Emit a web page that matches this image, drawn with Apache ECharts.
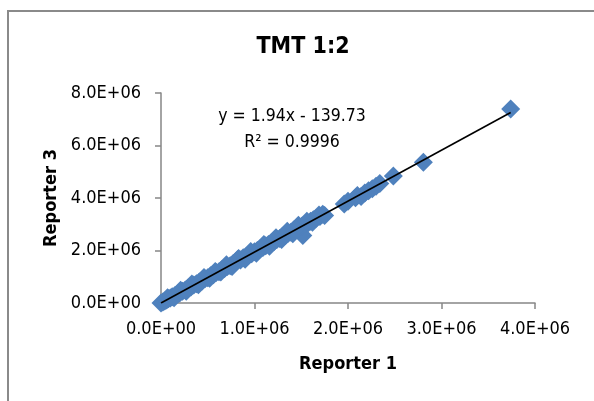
<!DOCTYPE html>
<html><head><meta charset="utf-8">
<script src="https://cdn.jsdelivr.net/npm/echarts@6/dist/echarts.min.js"></script>
<style>html,body{margin:0;padding:0;background:#fff}#c{width:594px;height:401px}</style>
</head><body><div id="c"></div>
<script>
// Reporter 1 (x) vs Reporter 3 (y) intensities
const reporter1 = [0,20000,40000,60000,80000,100000,120000,150000,180000,200000,230000,260000,290000,320000,350000,380000,410000,440000,470000,500000,530000,560000,590000,620000,650000,680000,710000,740000,770000,800000,820000,850000,880000,910000,940000,970000,1000000,1030000,1060000,1090000,1120000,1150000,1180000,1210000,1240000,1270000,1300000,1330000,1360000,1390000,1420000,1450000,1480000,1517000,1510000,1540000,1570000,1600000,1630000,1660000,1700000,1730000,1960000,2000000,2080000,2100000,2140000,2180000,2220000,2260000,2300000,2340000,2485000,2806000,3740000,
  10000,70000,140000,210000,270000,330000,400000,460000,520000,580000,640000,700000,760000,830000,900000,960000,1020000,1100000,1160000,1230000,1290000,1350000,1410000,1470000,1560000,1620000,1690000,1750000];
const reporter3 = [0,35000,80000,110000,160000,190000,240000,285000,355000,380000,450000,500000,570000,610000,690000,730000,800000,840000,920000,960000,1040000,1080000,1160000,1190000,1270000,1310000,1390000,1420000,1500000,1560000,1660000,1640000,1720000,1760000,1830000,1880000,1950000,2000000,2070000,2110000,2180000,2230000,2300000,2340000,2420000,2460000,2540000,2570000,2660000,2700000,2780000,2810000,2900000,2570000,2930000,3000000,3040000,3110000,3170000,3230000,3300000,3380000,3770000,3880000,4010000,4100000,4060000,4190000,4280000,4350000,4450000,4550000,4840000,5360000,7390000,
  -40000,200000,200000,490000,450000,720000,700000,970000,940000,1200000,1180000,1460000,1390000,1700000,1670000,1960000,1900000,2230000,2160000,2490000,2420000,2730000,2640000,2960000,3110000,3080000,3350000,3330000];
// Linear trendline endpoints (y = 1.94x - 139.73)
const trendX = [0, 3740000];
const trendY = [-140, 7255460];
const titleText = 'TMT 1:2';
const xName = 'Reporter 1';
const yName = 'Reporter 3';
const eqLines = ['y = 1.94x - 139.73', 'R² = 0.9996'];

const FONT = '"DejaVu Sans Condensed","Liberation Sans Narrow","Liberation Sans",sans-serif';
function sci(v){
  if (v === 0) return '0.0E+00';
  const e = Math.floor(Math.log10(Math.abs(v)));
  const m = v / Math.pow(10, e);
  return m.toFixed(1) + 'E+' + String(e).padStart(2, '0');
}
const pts = reporter1.map((x, i) => [x, reporter3[i]]);
const trend = trendX.map((x, i) => [x, trendY[i]]);

const chart = echarts.init(document.getElementById('c'), null, {renderer: 'canvas'});
chart.setOption({
  animation: false,
  backgroundColor: '#fff',
  grid: {left: 161, right: 59, top: 93, bottom: 98, containLabel: false},
  xAxis: {type: 'value', min: 0, max: 4000000, interval: 1000000,
    name: xName, nameLocation: 'middle', nameGap: 52,
    nameTextStyle: {fontFamily: FONT, fontSize: 18, fontWeight: 'bold', color: '#000'},
    axisLine: {show: true, lineStyle: {color: '#868686', width: 1.5}},
    axisTick: {show: true, inside: false, length: 6, lineStyle: {color: '#868686', width: 1.5}},
    axisLabel: {formatter: sci, fontFamily: FONT, fontSize: 18, color: '#000', margin: 17},
    splitLine: {show: false}},
  yAxis: {type: 'value', min: 0, max: 8000000, interval: 2000000,
    name: yName, nameLocation: 'middle', nameGap: 99, nameRotate: 90,
    nameTextStyle: {fontFamily: FONT, fontSize: 18, fontWeight: 'bold', color: '#000'},
    axisLine: {show: true, lineStyle: {color: '#868686', width: 1.5}},
    axisTick: {show: true, inside: false, length: 6, lineStyle: {color: '#868686', width: 1.5}},
    axisLabel: {formatter: sci, fontFamily: FONT, fontSize: 18, color: '#000', margin: 20},
    splitLine: {show: false}},
  graphic: [
    {type: 'rect', shape: {x: 8, y: 11, width: 700, height: 500}, style: {fill: 'none', stroke: '#8a8a8a', lineWidth: 2}, z: -1},
    {type: 'text', style: {x: 303, y: 47, text: titleText, fontFamily: FONT, fontSize: 23, fontWeight: 'bold', fill: '#000', align: 'center', verticalAlign: 'middle'}, z: 10},
    {type: 'text', style: {x: 292, y: 116, text: eqLines[0], fontFamily: FONT, fontSize: 17.5, fill: '#000', align: 'center', verticalAlign: 'middle'}, z: 10},
    {type: 'text', style: {x: 292, y: 142, text: eqLines[1], fontFamily: FONT, fontSize: 17.5, fill: '#000', align: 'center', verticalAlign: 'middle'}, z: 10}
  ],
  series: [
    {type: 'scatter', data: pts, symbol: 'diamond', symbolSize: 19,
      itemStyle: {color: '#4F81BD', opacity: 1}, z: 2},
    {type: 'line', data: trend, symbol: 'none', lineStyle: {color: '#000', width: 1.6}, z: 3, silent: true}
  ]
});
</script></body></html>
